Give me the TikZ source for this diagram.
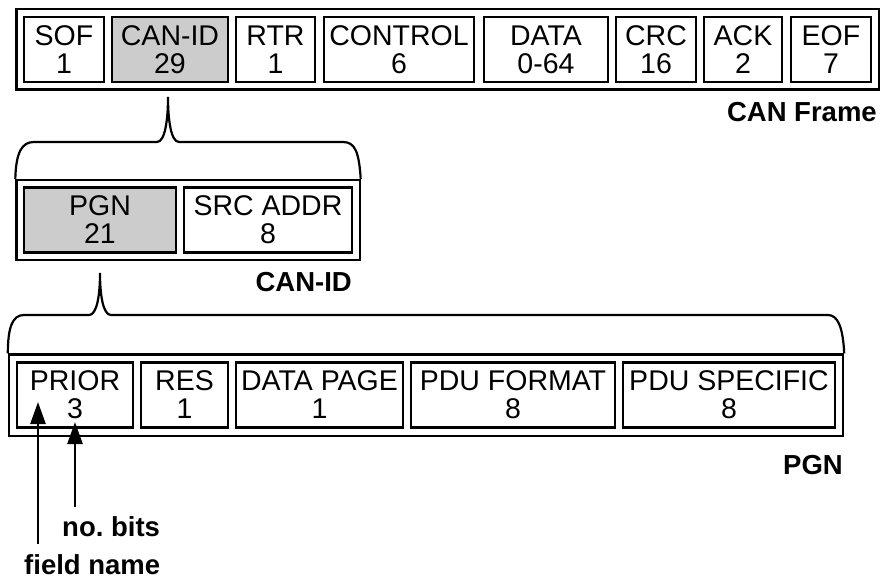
\documentclass[tikz,border=0pt]{standalone}
\usepackage{fontspec}
\setmainfont{Liberation Sans}
\usetikzlibrary{arrows.meta,positioning,fit,calc}

\begin{document}
\begin{tikzpicture}[x=1pt, y=-1pt,
    field/.style={draw, line width=2.2pt, minimum height=65pt, inner sep=0pt, align=center, font=\fontsize{28.5}{28}\selectfont},
    sel/.style={field, fill=black!20},
    outer/.style={draw, line width=2.2pt, inner sep=6.5pt},
    brc/.style={line width=2.2pt},
    ptr/.style={-{Triangle[length=22pt,width=15pt]}, line width=2.5pt},
    lbl/.style={font=\fontsize{27.5}{28}\selectfont\bfseries, inner sep=0pt}
]
\useasboundingbox (0,0) rectangle (881,580);

% CAN frame
\node[field, minimum width=80] (sof) at (64,49.5) {SOF\\1};
\node[sel, minimum width=116] (canid) at (170,49.5) {CAN-ID\\29};
\node[field, minimum width=79] (rtr) at (275.5,49.5) {RTR\\1};
\node[field, minimum width=150] (ctrl) at (399,49.5) {CONTROL\\6};
\node[field, minimum width=124] (data) at (546,49.5) {DATA\\0-64};
\node[field, minimum width=80] (crc) at (656,49.5) {CRC\\16};
\node[field, minimum width=78] (ack) at (743,49.5) {ACK\\2};
\node[field, minimum width=80] (eof) at (831,49.5) {EOF\\7};
\node[outer, fit=(sof)(eof)] (frame) {};
\node[lbl, anchor=east] (framelbl) at (877,112) {CAN Frame};

% CAN-ID
\node[sel, minimum width=152] (pgn) at (100,220) {PGN\\21};
\node[field, minimum width=168] (src) at (268,220) {SRC ADDR\\8};
\node[outer, fit=(pgn)(src)] (idbox) {};
\node[lbl, anchor=east] (idlbl) at (352,282) {CAN-ID};
\draw[brc] (idbox.north west) .. controls (16,152) and (22,142) .. (34,142) -- (157,142)
    .. controls (165,142) and (168,120) .. (168,97) .. controls (168,120) and (171,142) .. (179,142)
    -- (343,142) .. controls (355,142) and (359,152) .. (idbox.north east);

% PGN
\node[field, minimum width=116] (prior) at (75,395) {PRIOR\\3};
\node[field, minimum width=87] (res) at (184.5,395) {RES\\1};
\node[field, minimum width=167] (dp) at (319.5,395) {DATA PAGE\\1};
\node[field, minimum width=204] (pduf) at (513,395) {PDU FORMAT\\8};
\node[field, minimum width=212] (pdus) at (729,395) {PDU SPECIFIC\\8};
\node[outer, fit=(prior)(pdus), inner sep=7pt] (pgnbox) {};
\node[lbl, anchor=east] (pgnlbl) at (843,465) {PGN};
\draw[brc] (pgnbox.north west) .. controls (8,328) and (12,315) .. (24,315) -- (89,315)
    .. controls (97,315) and (100,295) .. (100,273) .. controls (100,295) and (103,315) .. (111,315)
    -- (828,315) .. controls (838,315) and (843,328) .. (pgnbox.north east);

% legend
\node[lbl, anchor=base west] (bits) at (62,536) {no.\ bits};
\node[lbl, anchor=base west] (fname) at (24,574) {field name};
\coordinate (bitstip) at (75,422);
\coordinate (nametip) at (38,402);
\draw[ptr, shorten <=9pt] (bits.north -| bitstip) -- (bitstip);
\draw[ptr, shorten <=10pt] (fname.north -| nametip) -- (nametip);
\end{tikzpicture}
\end{document}
